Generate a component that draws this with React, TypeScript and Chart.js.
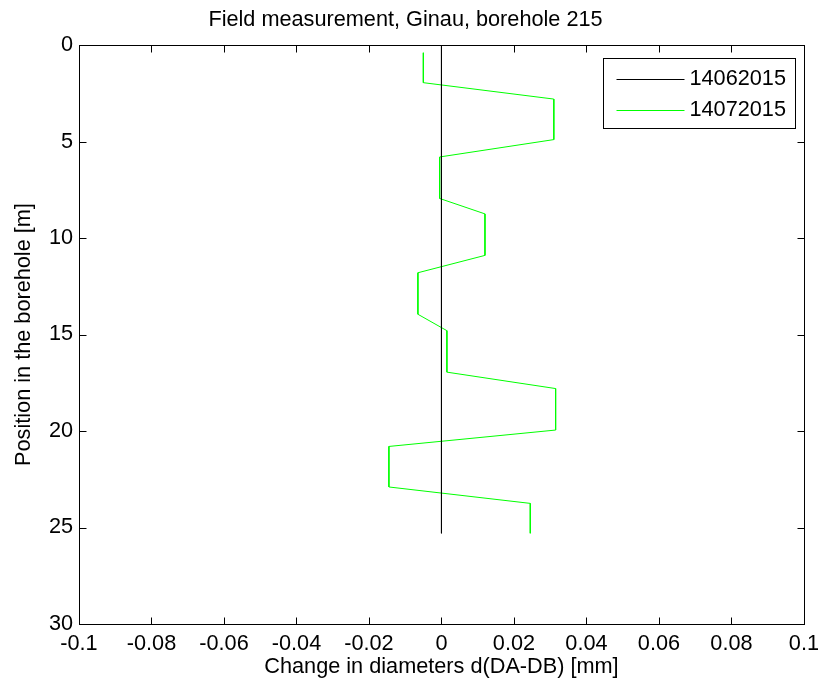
import React, { useEffect, useRef } from 'react';
import { Chart, registerables } from 'chart.js';

Chart.register(...registerables);

// ---- data ----
const seriesLabels = ['14062015', '14072015'];
const seriesColors = ['#000000', '#00ff00'];
const depthRef = [0, 25.3];
const valuesRef = [0, 0];
const depthMeas = [0.4, 1.95, 2.8, 4.9, 5.8, 7.95, 8.75, 10.9, 11.8, 13.95, 14.8, 16.95, 17.8, 19.95, 20.8, 22.9, 23.75, 25.3];
const valuesMeas = [-0.005, -0.005, 0.031, 0.031, -0.0005, -0.0005, 0.012, 0.012, -0.0065, -0.0065, 0.0015, 0.0015, 0.0315, 0.0315, -0.0145, -0.0145, 0.0245, 0.0245];
const xTicks = [-0.1, -0.08, -0.06, -0.04, -0.02, 0, 0.02, 0.04, 0.06, 0.08, 0.1];
const yTicks = [0, 5, 10, 15, 20, 25, 30];
const chartTitle = 'Field measurement, Ginau, borehole 215';
const xTitle = 'Change in diameters d(DA-DB) [mm]';
const yTitle = 'Position in the borehole [m]';

const FONT = "'Liberation Sans', Arial, sans-serif";
const FS = 21.7;

const frameLegendPlugin = {
  id: 'frameLegend',
  afterDraw(chart: any) {
    const { ctx, chartArea: a, scales } = chart;
    const L = Math.round(a.left) + 0.5;
    const R = Math.round(a.right) + 0.5;
    const T = Math.round(a.top) + 0.5;
    const B = Math.round(a.bottom) + 0.5;
    const tl = 7;
    ctx.save();
    ctx.strokeStyle = '#000';
    ctx.lineWidth = 1;
    ctx.strokeRect(L, T, R - L, B - T);
    ctx.beginPath();
    for (const v of xTicks) {
      const px = Math.round(scales.x.getPixelForValue(v)) + 0.5;
      ctx.moveTo(px, B); ctx.lineTo(px, B - tl);
      ctx.moveTo(px, T); ctx.lineTo(px, T + tl);
    }
    for (const v of yTicks) {
      const py = Math.round(scales.y.getPixelForValue(v)) + 0.5;
      ctx.moveTo(L, py); ctx.lineTo(L + tl, py);
      ctx.moveTo(R, py); ctx.lineTo(R - tl, py);
    }
    ctx.stroke();

    // legend box
    ctx.font = `${FS}px ${FONT}`;
    let maxW = 0;
    for (const s of seriesLabels) maxW = Math.max(maxW, ctx.measureText(s).width);
    const bw = Math.round(86 + maxW + 10);
    const bh = 70;
    const bx = Math.round(a.right - 9 - bw) + 0.5;
    const by = Math.round(a.top + 13) + 0.5;
    ctx.fillStyle = '#fff';
    ctx.fillRect(bx, by, bw, bh);
    ctx.strokeRect(bx, by, bw, bh);
    seriesLabels.forEach((lab, i) => {
      const ry = Math.round(by + 20 + i * 31) + 0.5;
      ctx.strokeStyle = seriesColors[i];
      ctx.beginPath();
      ctx.moveTo(bx + 13, ry);
      ctx.lineTo(bx + 81, ry);
      ctx.stroke();
      ctx.fillStyle = '#000';
      ctx.textBaseline = 'middle';
      ctx.textAlign = 'left';
      ctx.fillText(lab, bx + 86, ry);
    });
    ctx.restore();
  },
};

const fmt = (v: any) => String(parseFloat(Number(v).toFixed(4)));

export default function App() {
  const ref = useRef<HTMLCanvasElement | null>(null);
  useEffect(() => {
    document.body.style.margin = '0';
    Chart.defaults.font.family = FONT;
    Chart.defaults.color = '#000';
    const chart = new Chart(ref.current as HTMLCanvasElement, {
      type: 'scatter',
      data: {
        datasets: [
          {
            label: seriesLabels[0],
            data: depthRef.map((d, i) => ({ x: valuesRef[i], y: d })),
            showLine: true,
            borderColor: seriesColors[0],
            borderWidth: 1,
            pointRadius: 0,
            pointHoverRadius: 0,
          },
          {
            label: seriesLabels[1],
            data: depthMeas.map((d, i) => ({ x: valuesMeas[i], y: d })),
            showLine: true,
            borderColor: seriesColors[1],
            borderWidth: 1,
            pointRadius: 0,
            pointHoverRadius: 0,
          },
        ],
      },
      options: {
        animation: false,
        responsive: false,
        devicePixelRatio: 1,
        layout: { padding: { left: 0, right: 15, top: 0, bottom: 0 } },
        plugins: {
          legend: { display: false },
          tooltip: { enabled: false },
          title: {
            display: true,
            text: chartTitle,
            color: '#000',
            font: { family: FONT, size: FS, weight: 'normal' },
            padding: { top: 7, bottom: 12 },
          },
        },
        scales: {
          x: {
            type: 'linear',
            min: -0.1,
            max: 0.1,
            afterFit: (s: any) => { s.height = 60; },
            afterBuildTicks: (s: any) => { s.ticks = xTicks.map((v) => ({ value: v })); },
            grid: { display: false, drawTicks: false },
            border: { display: false },
            ticks: { padding: 7, autoSkip: false, maxRotation: 0, color: '#000', font: { size: FS, family: FONT }, callback: fmt },
            title: { display: true, text: xTitle, color: '#000', font: { size: FS, family: FONT }, padding: { top: 0, bottom: 4 } },
          },
          y: {
            type: 'linear',
            reverse: true,
            min: 0,
            max: 30,
            afterFit: (s: any) => { s.width = 79; },
            afterBuildTicks: (s: any) => { s.ticks = yTicks.map((v) => ({ value: v })); },
            grid: { display: false, drawTicks: false },
            border: { display: false },
            ticks: { padding: 6, autoSkip: false, color: '#000', font: { size: FS, family: FONT }, callback: fmt },
            title: { display: true, text: yTitle, color: '#000', font: { size: FS, family: FONT }, padding: { top: 11, bottom: 0 } },
          },
        },
      },
      plugins: [frameLegendPlugin],
    } as any);
    return () => chart.destroy();
  }, []);
  return (
    <div style={{ position: 'absolute', left: 0, top: 0, width: 826, height: 684, background: '#fff' }}>
      <canvas ref={ref} width={826} height={684} style={{ display: 'block', width: 826, height: 684 }} />
    </div>
  );
}
